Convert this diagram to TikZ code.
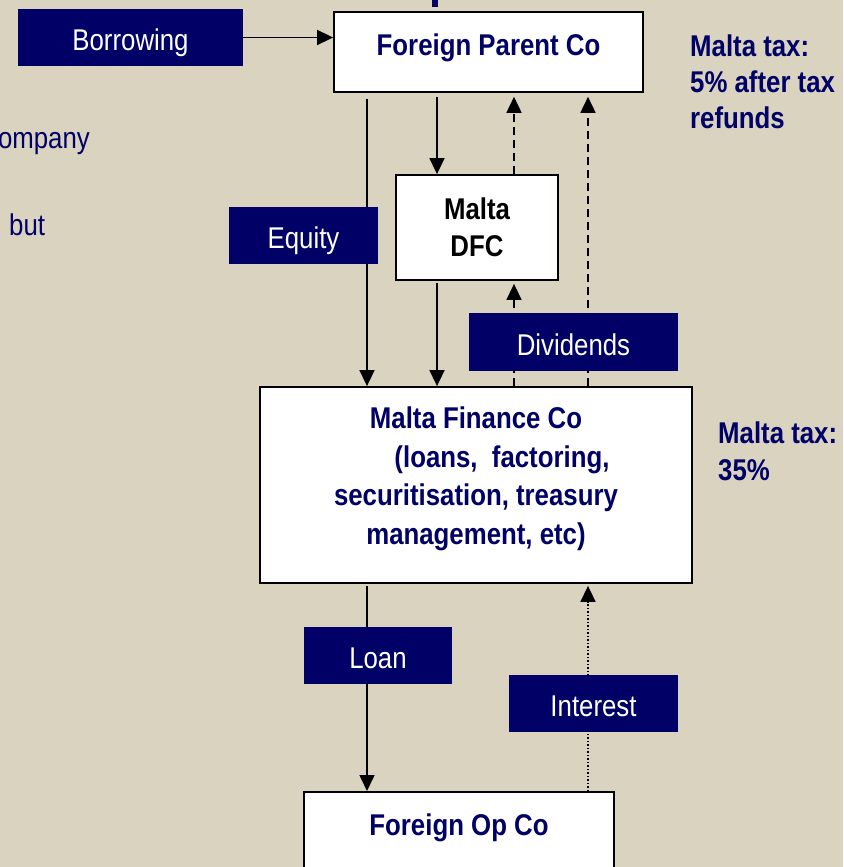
\documentclass[tikz,border=0pt]{standalone}
\usepackage{fontspec}
\setmainfont{Liberation Sans}[FakeStretch=0.86]
\usetikzlibrary{arrows.meta}
\definecolor{paper}{RGB}{217,211,191}
\definecolor{navy}{RGB}{0,0,102}
\begin{document}
\begin{tikzpicture}[x=1pt,y=-1pt,
        font=\fontsize{30}{36}\selectfont,
        cobox/.style={draw,fill=white,line width=1.8pt,inner sep=0pt},
        topbox/.style={cobox,anchor=north,text=navy,font=\fontsize{30}{36}\selectfont\bfseries,
          text height=44pt,text depth=36pt},
        tag/.style={fill=navy,text=white,inner sep=0pt,minimum height=57pt,
          text height=26pt,text depth=0pt},
        flow/.style={line width=1.6pt,-{Triangle[length=16pt,width=15pt]}},
        note/.style={text=navy,inner sep=0pt,align=left,anchor=north west,
          font=\fontsize{30}{36}\selectfont\bfseries}]
        \fill[paper] (0,0) rectangle (843,867);
        \useasboundingbox (0,0) rectangle (843,867);
        \fill[navy] (432,0) rectangle (438,7);
        \node[topbox,minimum width=309pt] (parent) at (488.5,11) {Foreign Parent Co};
        \node[cobox,minimum width=162pt,minimum height=105pt,align=center,
          font=\fontsize{30}{37}\selectfont\bfseries] (dfc) at (477,227.5) {Malta\\DFC};
        \node[cobox,minimum width=432pt,minimum height=196pt] (mfc) at (476,485) {};
        \node[text=navy,align=center,inner sep=0pt,font=\fontsize{30}{38.5}\selectfont\bfseries]
          (mfctext) at (476,479) {Malta Finance Co\\\hspace*{52pt}(loans,~~factoring,\\
          securitisation, treasury\\management, etc)};
        \node[topbox,minimum width=310pt,text depth=60pt] (opco) at (459,791) {Foreign Op Co};
        \node[note] (taxparent) at (690,35) {Malta tax:\\5\% after tax\\refunds};
        \node[note,font=\fontsize{30}{37}\selectfont\bfseries] (taxmfc) at (718,422) {Malta tax:\\35\%};
        \node[text=navy,inner sep=0pt,anchor=base east] (cutone) at (90,148) {ompany};
        \node[text=navy,inner sep=0pt,anchor=base west] (cuttwo) at (9,235) {but};
        \coordinate (laneone) at (367,0);
        \coordinate (lanetwo) at (437,0);
        \coordinate (lanethree) at (514,0);
        \coordinate (lanefour) at (588,0);
        \draw[flow,shorten <=6pt] (parent.south -| laneone) -- (mfc.north -| laneone);
        \draw[flow,shorten <=4pt] (parent.south -| lanetwo) -- (dfc.north -| lanetwo);
        \draw[flow,shorten <=2pt] (dfc.south -| lanetwo) -- (mfc.north -| lanetwo);
        \draw[flow,dash pattern=on 8pt off 5pt,shorten >=3pt] (mfc.north -| lanethree) -- (dfc.south -| lanethree);
        \draw[flow,dash pattern=on 8pt off 5pt,shorten >=4pt] (dfc.north -| lanethree) -- (parent.south -| lanethree);
        \draw[flow,dash pattern=on 8pt off 5pt,shorten >=4pt] (mfc.north -| lanefour) -- (parent.south -| lanefour);
        \draw[flow,shorten <=2pt] (mfc.south -| laneone) -- (opco.north -| laneone);
        \draw[flow,dash pattern=on 1.5pt off 2pt,shorten >=2pt] (opco.north -| lanefour) -- (mfc.south -| lanefour);
        \node[tag,minimum width=225pt] (borrow) at (130.5,37.5) {Borrowing};
        \node[tag,minimum width=149pt] (equity) at (303.5,235.5) {Equity};
        \node[tag,minimum width=209pt,minimum height=58pt] (divs) at (573.5,342) {Dividends};
        \node[tag,minimum width=148pt] (loan) at (378,655.5) {Loan};
        \node[tag,minimum width=169pt] (interest) at (593.5,703.5) {Interest};
        \draw[flow] (borrow) -- (parent.west |- borrow);
      \end{tikzpicture}
\end{document}
